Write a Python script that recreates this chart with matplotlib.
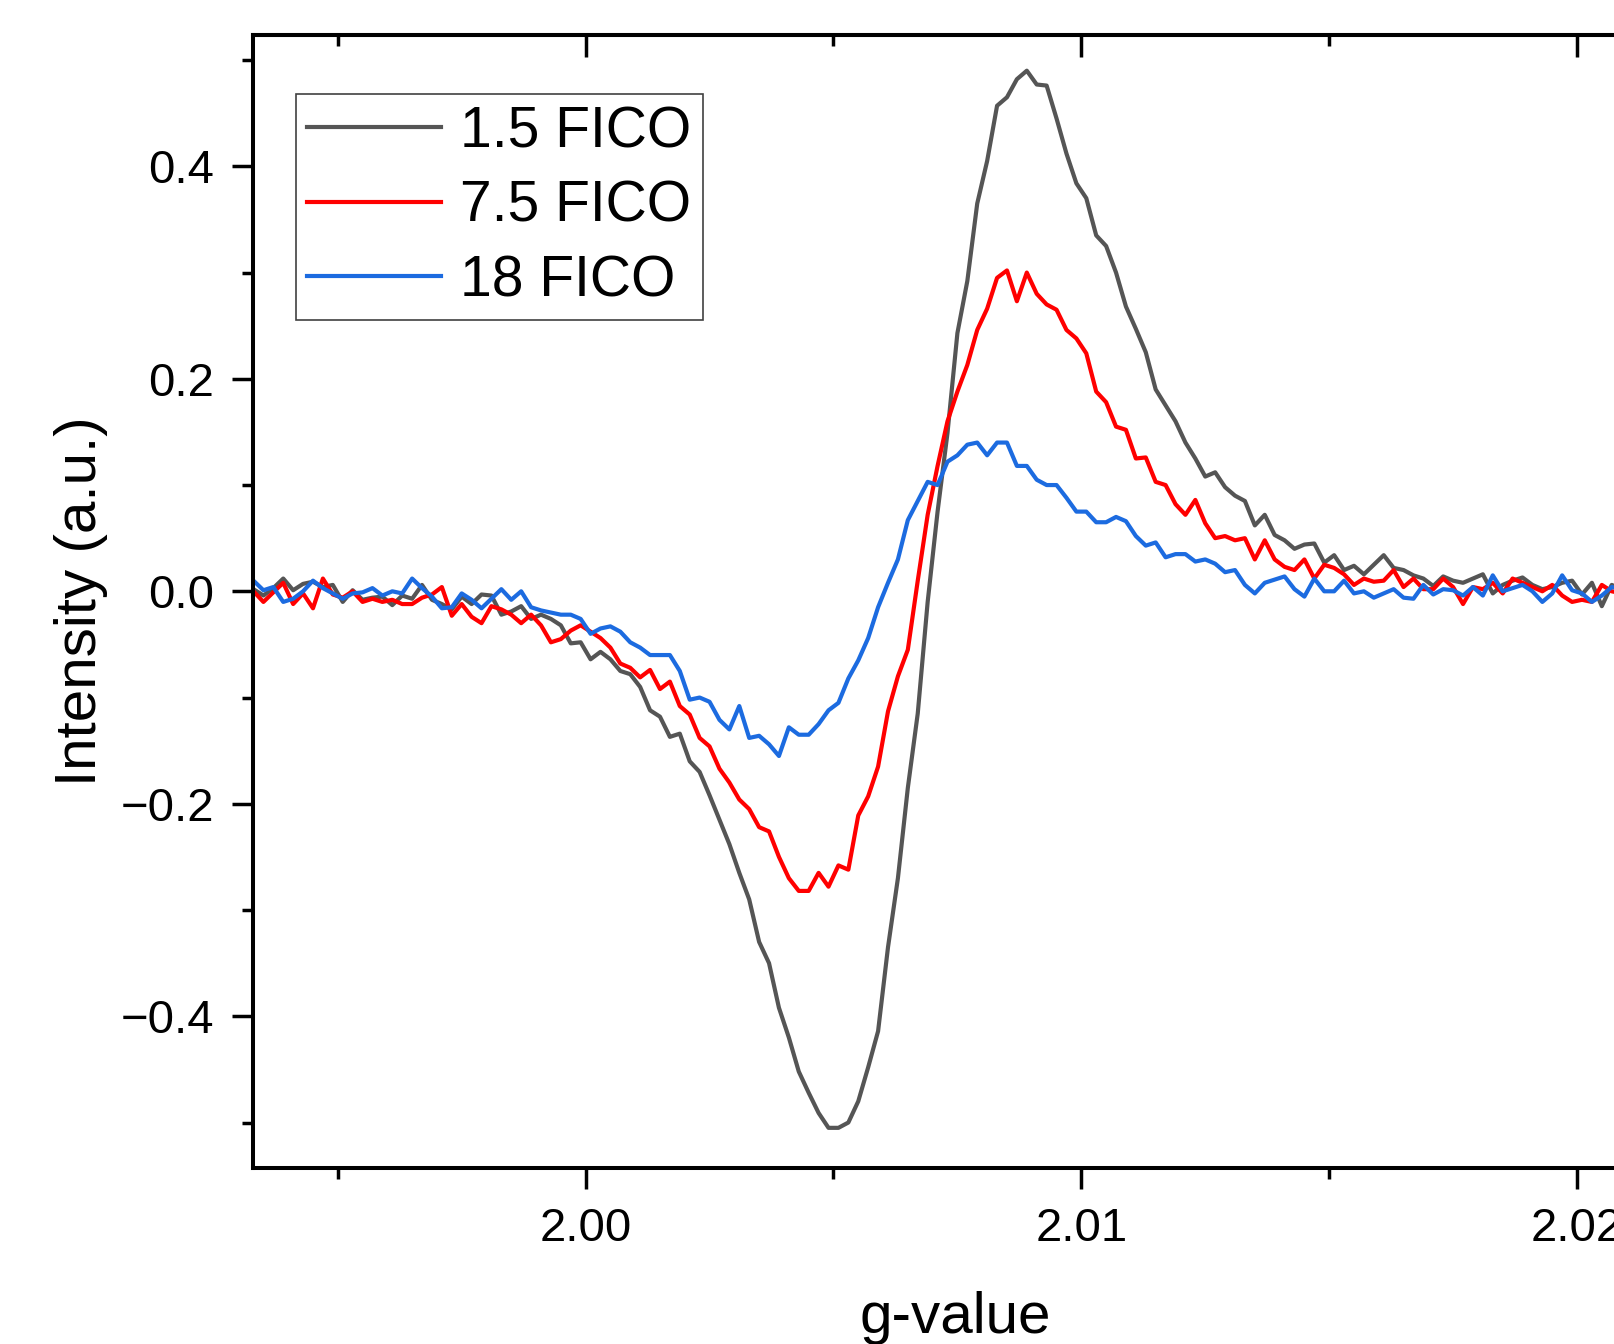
"""
EPR spectra of FICO samples: intensity vs g-value.
"""
import matplotlib
matplotlib.use("Agg")
import matplotlib.pyplot as plt
from matplotlib.ticker import FixedLocator

plt.rcParams["font.family"] = ["Liberation Sans", "DejaVu Sans"]

G = [
    1.9933, 1.9935, 1.9937, 1.9939, 1.9941, 1.9943, 1.9945, 1.9947, 1.9949, 1.9951,
    1.9953, 1.9955, 1.9957, 1.9959, 1.9961, 1.9963, 1.9965, 1.9967, 1.9969, 1.9971,
    1.9973, 1.9975, 1.9977, 1.9979, 1.9981, 1.9983, 1.9985, 1.9987, 1.9989, 1.9991,
    1.9993, 1.9995, 1.9997, 1.9999, 2.0001, 2.0003, 2.0005, 2.0007, 2.0009, 2.0011,
    2.0013, 2.0015, 2.0017, 2.0019, 2.0021, 2.0023, 2.0025, 2.0027, 2.0029, 2.0031,
    2.0033, 2.0035, 2.0037, 2.0039, 2.0041, 2.0043, 2.0045, 2.0047, 2.0049, 2.0051,
    2.0053, 2.0055, 2.0057, 2.0059, 2.0061, 2.0063, 2.0065, 2.0067, 2.0069, 2.0071,
    2.0073, 2.0075, 2.0077, 2.0079, 2.0081, 2.0083, 2.0085, 2.0087, 2.0089, 2.0091,
    2.0093, 2.0095, 2.0097, 2.0099, 2.0101, 2.0103, 2.0105, 2.0107, 2.0109, 2.0111,
    2.0113, 2.0115, 2.0117, 2.0119, 2.0121, 2.0123, 2.0125, 2.0127, 2.0129, 2.0131,
    2.0133, 2.0135, 2.0137, 2.0139, 2.0141, 2.0143, 2.0145, 2.0147, 2.0149, 2.0151,
    2.0153, 2.0155, 2.0157, 2.0159, 2.0161, 2.0163, 2.0165, 2.0167, 2.0169, 2.0171,
    2.0173, 2.0175, 2.0177, 2.0179, 2.0181, 2.0183, 2.0185, 2.0187, 2.0189, 2.0191,
    2.0193, 2.0195, 2.0197, 2.0199, 2.0201, 2.0203, 2.0205, 2.0207, 2.0209,
]

FICO_1_5 = [
    0.002, -0.004, 0.003, 0.012, 0.001, 0.007, 0.009, 0.004, 0.006, -0.010,
    0.001, -0.008, -0.006, -0.005, -0.013, -0.004, -0.007, 0.006, -0.008, -0.012,
    -0.017, -0.005, -0.012, -0.003, -0.004, -0.022, -0.019, -0.014, -0.026, -0.022,
    -0.026, -0.032, -0.049, -0.048, -0.064, -0.057, -0.064, -0.075, -0.078, -0.090,
    -0.112, -0.118, -0.137, -0.134, -0.160, -0.170, -0.192, -0.215, -0.238, -0.265,
    -0.290, -0.330, -0.350, -0.392, -0.420, -0.452, -0.472, -0.491, -0.505, -0.505,
    -0.500, -0.480, -0.448, -0.414, -0.335, -0.270, -0.185, -0.115, -0.010, 0.075,
    0.149, 0.243, 0.292, 0.365, 0.405, 0.457, 0.465, 0.482, 0.490, 0.477,
    0.476, 0.445, 0.412, 0.384, 0.370, 0.335, 0.325, 0.300, 0.268, 0.247,
    0.225, 0.190, 0.175, 0.160, 0.140, 0.125, 0.108, 0.112, 0.098, 0.090,
    0.085, 0.062, 0.072, 0.053, 0.048, 0.040, 0.044, 0.045, 0.027, 0.034,
    0.020, 0.024, 0.016, 0.025, 0.034, 0.022, 0.020, 0.015, 0.012, 0.005,
    0.014, 0.010, 0.008, 0.012, 0.016, -0.002, 0.006, 0.010, 0.013, 0.006,
    0.002, 0.004, 0.008, 0.010, -0.003, 0.008, -0.014, 0.006, 0.002,
]

FICO_7_5 = [
    0.000, -0.010, -0.001, 0.008, -0.012, -0.002, -0.016, 0.012, -0.003, -0.006,
    0.000, -0.010, -0.007, -0.010, -0.008, -0.012, -0.012, -0.006, -0.003, 0.004,
    -0.023, -0.012, -0.024, -0.030, -0.014, -0.017, -0.022, -0.030, -0.022, -0.032,
    -0.048, -0.045, -0.037, -0.032, -0.038, -0.044, -0.053, -0.068, -0.072, -0.081,
    -0.074, -0.092, -0.085, -0.108, -0.116, -0.138, -0.146, -0.167, -0.180, -0.196,
    -0.205, -0.222, -0.226, -0.250, -0.270, -0.282, -0.282, -0.265, -0.278, -0.258,
    -0.262, -0.211, -0.193, -0.165, -0.113, -0.080, -0.055, 0.010, 0.072, 0.118,
    0.160, 0.188, 0.213, 0.246, 0.266, 0.295, 0.302, 0.273, 0.300, 0.280,
    0.270, 0.265, 0.246, 0.238, 0.224, 0.188, 0.178, 0.155, 0.152, 0.125,
    0.126, 0.103, 0.100, 0.082, 0.072, 0.086, 0.064, 0.050, 0.052, 0.048,
    0.050, 0.030, 0.048, 0.030, 0.023, 0.020, 0.030, 0.012, 0.025, 0.022,
    0.016, 0.006, 0.012, 0.009, 0.010, 0.020, 0.004, 0.012, 0.002, 0.002,
    0.012, 0.004, -0.012, 0.004, 0.002, 0.008, -0.002, 0.012, 0.008, 0.004,
    0.000, 0.006, -0.004, -0.010, -0.008, -0.010, 0.006, 0.000, -0.002,
]

FICO_18 = [
    0.010, 0.001, 0.004, -0.010, -0.007, 0.000, 0.010, 0.003, -0.002, -0.007,
    -0.002, -0.001, 0.003, -0.004, 0.000, -0.002, 0.012, 0.003, -0.005, -0.016,
    -0.015, -0.002, -0.008, -0.016, -0.007, 0.002, -0.008, 0.000, -0.015, -0.018,
    -0.020, -0.022, -0.022, -0.026, -0.040, -0.035, -0.033, -0.038, -0.048, -0.053,
    -0.060, -0.060, -0.060, -0.075, -0.102, -0.100, -0.104, -0.121, -0.130, -0.108,
    -0.138, -0.136, -0.144, -0.155, -0.128, -0.135, -0.135, -0.125, -0.112, -0.105,
    -0.082, -0.065, -0.044, -0.015, 0.008, 0.030, 0.067, 0.085, 0.103, 0.100,
    0.122, 0.128, 0.138, 0.140, 0.128, 0.140, 0.140, 0.118, 0.118, 0.105,
    0.100, 0.100, 0.088, 0.075, 0.075, 0.065, 0.065, 0.070, 0.066, 0.052,
    0.043, 0.046, 0.032, 0.035, 0.035, 0.028, 0.030, 0.026, 0.018, 0.020,
    0.006, -0.002, 0.008, 0.011, 0.014, 0.002, -0.005, 0.012, 0.000, 0.000,
    0.010, -0.002, 0.000, -0.006, -0.002, 0.002, -0.006, -0.007, 0.006, -0.003,
    0.002, 0.001, -0.004, 0.004, -0.004, 0.015, 0.000, 0.003, 0.006, 0.000,
    -0.010, -0.002, 0.015, 0.001, -0.002, -0.010, -0.004, 0.004, 0.002,
]

SERIES = [
    ("1.5 FICO", FICO_1_5, "#555555"),
    ("7.5 FICO", FICO_7_5, "#ff0000"),
    ("18 FICO", FICO_18, "#1c6be0"),
]

X_MAJOR = [2.00, 2.01, 2.02]
X_MINOR = [1.995, 2.005, 2.015]
Y_MAJOR = [-0.4, -0.2, 0.0, 0.2, 0.4]
Y_MINOR = [-0.5, -0.3, -0.1, 0.1, 0.3, 0.5]

fig = plt.figure(figsize=(16.15, 13.44), dpi=100)
ax = fig.add_axes([253 / 1615, 176 / 1344, 1404 / 1615, 1133 / 1344])

for label, values, color in SERIES:
    ax.plot(G, values, color=color, linewidth=3.0, label=label)

ax.set_xlim(1.99329, 2.021613)
ax.set_ylim(-0.5428, 0.5236)

ax.set_xticks(X_MAJOR)
ax.set_xticklabels(["2.00", "2.01", "2.02"])
ax.xaxis.set_minor_locator(FixedLocator(X_MINOR))
ax.set_yticks(Y_MAJOR)
ax.set_yticklabels([f"{v:.1f}".replace("-", "\u2212") for v in Y_MAJOR])
ax.yaxis.set_minor_locator(FixedLocator(Y_MINOR))

ax.tick_params(which="both", direction="out", width=2.5, top=False, right=False,
               labelsize=34, pad=13)
ax.tick_params(which="major", length=15)
ax.tick_params(which="minor", length=8)

for side in ("left", "bottom", "top"):
    ax.spines[side].set_linewidth(2.9)
ax.spines["right"].set_visible(False)

# top axis carries inward ticks only
top = ax.secondary_xaxis("top")
top.set_xticks(X_MAJOR)
top.xaxis.set_minor_locator(FixedLocator(X_MINOR))
top.tick_params(which="both", direction="in", width=2.5, labeltop=False)
top.tick_params(which="major", length=16)
top.tick_params(which="minor", length=8)
top.spines["top"].set_linewidth(2.9)

ax.set_xlabel("g-value", fontsize=42)
ax.xaxis.set_label_coords(0.5, -0.109)
ax.set_ylabel("Intensity (a.u.)", fontsize=42)
ax.yaxis.set_label_coords(-0.103, 0.5)

leg = ax.legend(loc="upper left", bbox_to_anchor=(0.0306, 0.9479), borderaxespad=0,
                fontsize=41, frameon=True, fancybox=False, handlelength=2.35,
                handletextpad=0.33, labelspacing=0.36, borderpad=0.2)
leg.get_frame().set_edgecolor("#111111")
leg.get_frame().set_linewidth(1.2)

fig.savefig("out.png", dpi=100)
plt.close(fig)
